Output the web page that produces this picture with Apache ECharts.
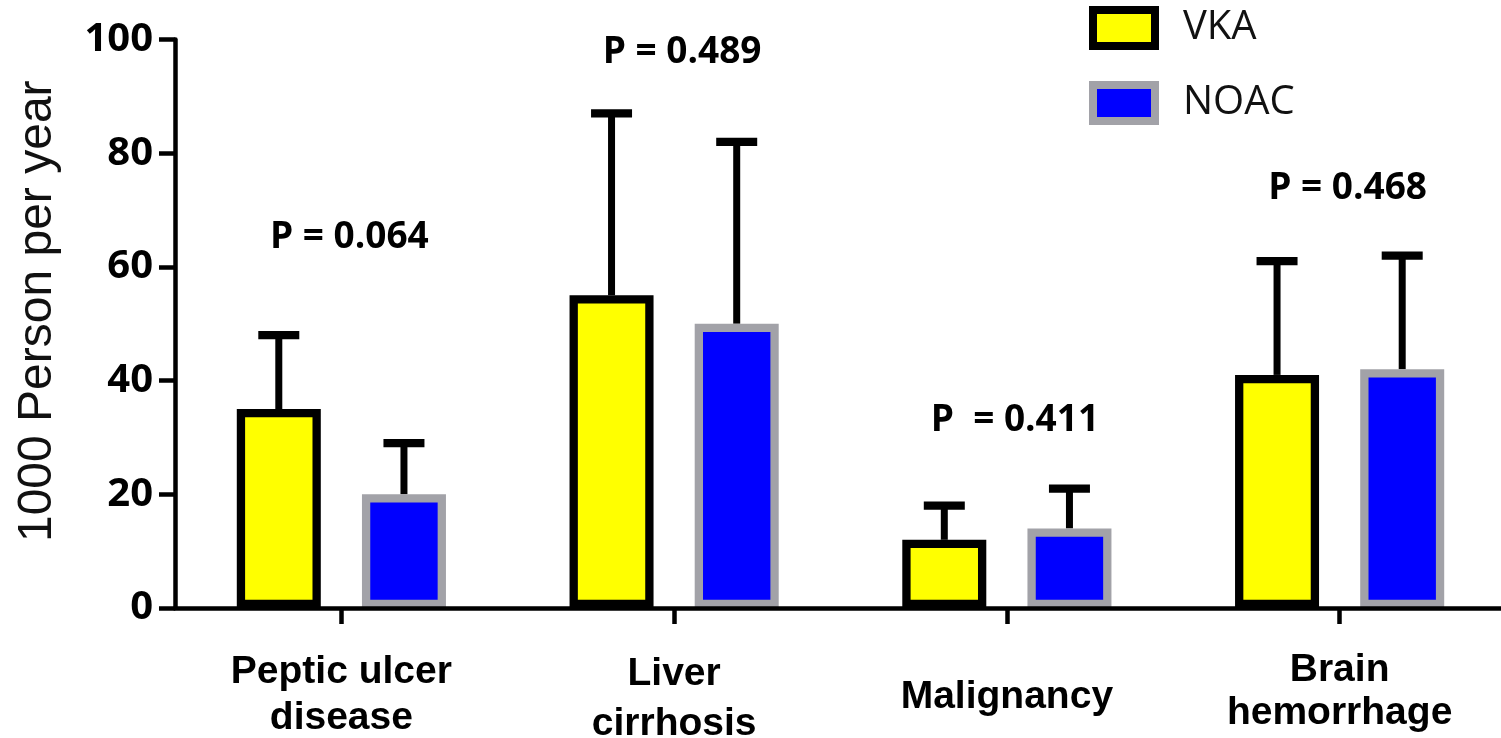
<!DOCTYPE html>
<html>
<head>
<meta charset="utf-8">
<script src="https://cdn.jsdelivr.net/npm/echarts@6/dist/echarts.min.js"></script>
<style>
  html, body { margin: 0; padding: 0; background: #fff; }
  #chart { width: 1501px; height: 738px; }
</style>
</head>
<body>
<div id="chart"></div>
<script>
// ---- data ----
const categories = ['Peptic ulcer\ndisease', 'Liver\ncirrhosis', 'Malignancy', 'Brain\nhemorrhage'];
const vkaMean  = [35, 55, 12, 41];
const vkaUpper = [48, 87, 18, 61];
const noacMean  = [20, 50, 14, 42];
const noacUpper = [29, 82, 21, 62];
const pLabels = ['P = 0.064', 'P = 0.489', 'P  = 0.411', 'P = 0.468'];
const yTicks = [0, 20, 40, 60, 80, 100];

// ---- layout / style constants ----
const BAR_W = 84;
const BAR_GAP_RATIO = 0.49;
const HALF_STEP = (BAR_W + BAR_W * BAR_GAP_RATIO) / 2;
const pLift = [98, 61, 68, 67];      // px above highest error cap
const pShiftX = 8;
const labelStyleKey = ['pep', 'liv', 'mal', 'bra'];

const chart = echarts.init(document.getElementById('chart'));

function errorSeries(name, means, uppers, sign) {
  return {
    name: name,
    type: 'custom',
    z: 1,
    clip: false,
    silent: true,
    data: means.map((m, i) => [i, m, uppers[i]]),
    renderItem: function (params, api) {
      const i = api.value(0);
      const x = api.coord([i, 0])[0] + sign * HALF_STEP;
      const yM = api.coord([i, api.value(1)])[1];
      const yU = api.coord([i, api.value(2)])[1];
      return {
        type: 'group',
        children: [
          { type: 'line', shape: { x1: x, y1: yM, x2: x, y2: yU },
            style: { stroke: '#000', lineWidth: 7, lineCap: 'butt' } },
          { type: 'line', shape: { x1: x - 20.5, y1: yU, x2: x + 20.5, y2: yU },
            style: { stroke: '#000', lineWidth: 8.3, lineCap: 'butt' } }
        ]
      };
    }
  };
}

const option = {
  animation: false,
  backgroundColor: '#fff',
  grid: { left: 175, width: 1331, top: 39.5, height: 568.5, containLabel: false, outerBoundsMode: 'none' },
  legend: {
    orient: 'vertical',
    left: 1089,
    top: 6,
    padding: 0,
    itemWidth: 62,
    itemHeight: 36,
    itemGap: 31,
    icon: 'rect',
    textStyle: { fontFamily: 'Open Sans', fontSize: 40, color: '#111', lineHeight: 36, padding: [0, 0, 0, 23] },
    data: [
      { name: 'VKA', itemStyle: { color: '#ffff00', borderColor: '#000', borderWidth: 8 } },
      { name: 'NOAC', itemStyle: { color: '#0000ff', borderColor: '#a2a2a8', borderWidth: 8 } }
    ]
  },
  xAxis: {
    type: 'category',
    data: categories,
    z: 5,
    axisLine: { show: true, lineStyle: { color: '#000', width: 4.5 } },
    axisTick: { show: true, interval: 0, alignWithLabel: true, length: 16, lineStyle: { color: '#000', width: 4.5 } },
    axisLabel: {
      margin: 41,
      interval: 0,
      formatter: function (value, idx) {
        const key = labelStyleKey[idx];
        return value.split('\n').map(s => '{' + key + '|' + s + '}').join('\n');
      },
      rich: {
        pep: { fontFamily: 'Liberation Sans', fontWeight: 'bold', fontSize: 39, color: '#000', lineHeight: 46 },
        liv: { fontFamily: 'Liberation Sans', fontWeight: 'bold', fontSize: 39, color: '#000', lineHeight: 50 },
        mal: { fontFamily: 'Liberation Sans', fontWeight: 'bold', fontSize: 39, color: '#000', lineHeight: 96 },
        bra: { fontFamily: 'Liberation Sans', fontWeight: 'bold', fontSize: 39, color: '#000', lineHeight: 43 }
      }
    }
  },
  yAxis: {
    type: 'value',
    min: 0,
    max: 100,
    interval: 20,
    name: '1000 Person per year',
    nameLocation: 'middle',
    nameRotate: 90,
    nameGap: 113,
    nameTextStyle: { fontFamily: 'Liberation Sans', fontSize: 48, color: '#111', padding: [0, 0, 0, 25] },
    splitLine: { show: false },
    axisLine: { show: true, lineStyle: { color: '#000', width: 4.5 } },
    axisTick: { show: true, length: 16, lineStyle: { color: '#000', width: 4.5 } },
    axisLabel: {
      margin: 22,
      fontFamily: 'Open Sans',
      fontWeight: 'bold',
      fontSize: 40,
      color: '#000',
      formatter: function (v) { return yTicks.indexOf(v) >= 0 ? String(v) : ''; }
    }
  },
  series: [
    {
      name: 'VKA',
      type: 'bar',
      z: 2,
      barWidth: BAR_W,
      barGap: (BAR_GAP_RATIO * 100) + '%',
      data: vkaMean,
      itemStyle: { color: '#ffff00', borderColor: '#000', borderWidth: 8.3 }
    },
    {
      name: 'NOAC',
      type: 'bar',
      z: 2,
      barWidth: BAR_W,
      data: noacMean,
      itemStyle: { color: '#0000ff', borderColor: '#a2a2a8', borderWidth: 8.3 }
    },
    errorSeries('VKA error', vkaMean, vkaUpper, -1),
    errorSeries('NOAC error', noacMean, noacUpper, 1),
    {
      name: 'P values',
      type: 'custom',
      z: 3,
      clip: false,
      silent: true,
      data: pLabels.map((t, i) => [i, Math.max(vkaUpper[i], noacUpper[i])]),
      renderItem: function (params, api) {
        const i = api.value(0);
        const p = api.coord([i, api.value(1)]);
        return {
          type: 'text',
          x: p[0] + pShiftX,
          y: p[1] - pLift[i],
          style: {
            text: pLabels[i],
            fill: '#000',
            fontFamily: 'Open Sans',
            fontWeight: 'bold',
            fontSize: 37,
            align: 'center',
            verticalAlign: 'middle'
          }
        };
      }
    }
  ]
};

chart.setOption(option);
</script>
</body>
</html>
